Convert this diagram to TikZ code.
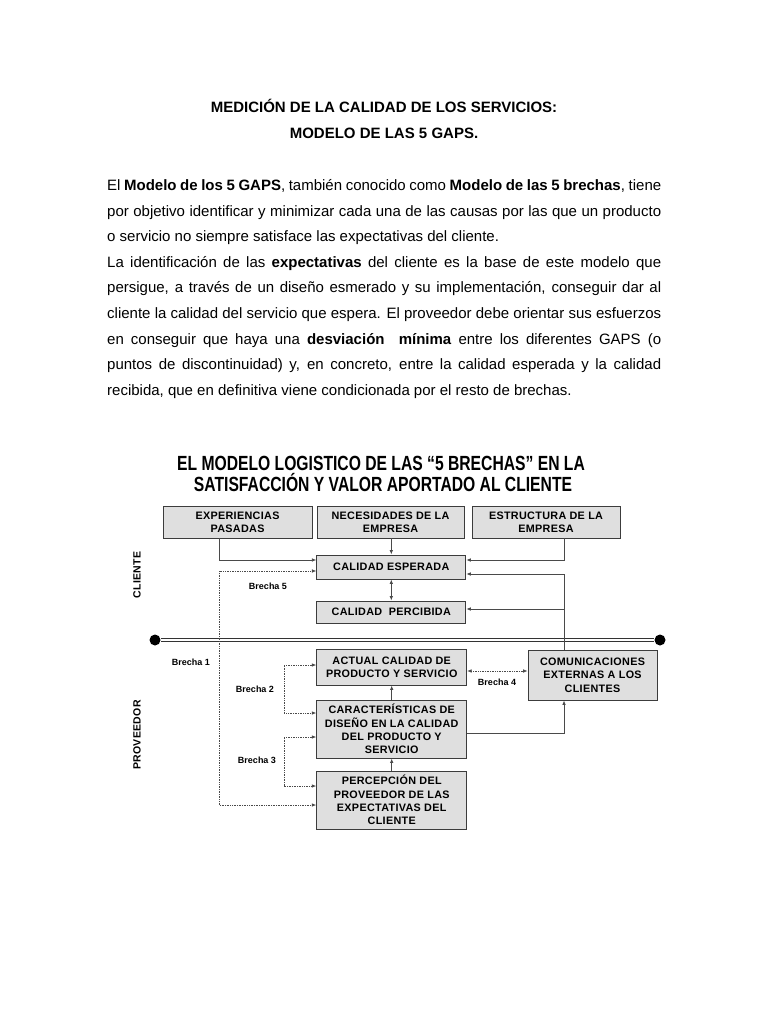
\documentclass[tikz,border=0pt]{standalone}
\usepackage{fontspec}
\setmainfont{Liberation Sans}
\newfontfamily\boxfont[LetterSpace=3]{Liberation Sans}
\usetikzlibrary{arrows.meta}
\definecolor{boxfill}{HTML}{DFDFDF}
\definecolor{boxline}{HTML}{3C3C3C}
\definecolor{linecol}{HTML}{4A4A4A}
\begin{document}
\begin{tikzpicture}[x=1pt,y=-1pt,
  box/.style={draw=boxline, fill=boxfill, line width=0.9pt, align=center,
    font=\boxfont\bfseries\fontsize{10.8}{13.4}\selectfont, inner sep=0pt},
  conn/.style={draw=linecol, line width=0.8pt},
  tip/.tip={Latex[length=4.5pt,width=3.6pt]},
  arr/.style={conn, -tip},
  arrtwo/.style={conn, tip-tip},
  dotarr/.style={draw=linecol, line width=0.7pt, densely dotted, tip-tip},
  body/.style={anchor=base west, inner sep=0pt, font=\fontsize{15}{18}\selectfont},
  ttl/.style={anchor=base, inner sep=0pt, font=\bfseries\fontsize{15}{18}\selectfont},
  dtitle/.style={anchor=base, inner sep=0pt, font=\bfseries\fontsize{20.5}{24}\selectfont},
  gap/.style={inner sep=0pt, font=\bfseries\fontsize{9}{11}\selectfont},
  side/.style={inner sep=0pt, rotate=90, font=\boxfont\bfseries\fontsize{10.5}{12}\selectfont},
  dot/.style={circle, fill=black, inner sep=0pt, minimum size=11pt}
]
\useasboundingbox[fill=white] (0,0) rectangle (768,1024);

% ---- page heading
\node[ttl] (h1) at (384,112.4) {MEDICIÓN DE LA CALIDAD DE LOS SERVICIOS:};
\node[ttl] (h2) at (384,138.4) {MODELO DE LAS 5 GAPS.};

% ---- body text
\node[body] (t1) at (107,190.5) {\makebox[554pt][s]{El \textbf{Modelo de los 5 GAPS}, también conocido como \textbf{Modelo de las 5 brechas}, tiene}};
\node[body] (t2) at (107,216.1) {\makebox[554pt][s]{por objetivo identificar y minimizar cada una de las causas por las que un producto}};
\node[body] (t3) at (107,241.7) {o servicio no siempre satisface las expectativas del cliente.};
\node[body] (t4) at (107,267.3) {\makebox[554pt][s]{La identificación de las \textbf{expectativas} del cliente es la base de este modelo que}};
\node[body] (t5) at (107,292.9) {\makebox[554pt][s]{persigue, a través de un diseño esmerado y su implementación, conseguir dar al}};
\node[body] (t6) at (107,318.5) {\makebox[554pt][s]{cliente la calidad del servicio que espera. El proveedor debe orientar sus esfuerzos}};
\node[body] (t7) at (107,344.1) {\makebox[554pt][s]{en conseguir que haya una \textbf{desviación\ \ mínima} entre los diferentes GAPS (o}};
\node[body] (t8) at (107,369.7) {\makebox[554pt][s]{puntos de discontinuidad) y, en concreto, entre la calidad esperada y la calidad}};
\node[body] (t9) at (107,395.3) {recibida, que en definitiva viene condicionada por el resto de brechas.};

% ---- diagram title
\node[dtitle] (d1) at (381,470.5) {\scalebox{0.765}[1]{EL MODELO LOGISTICO DE LAS “5 BRECHAS” EN LA}};
\node[dtitle] (d2) at (383,491.5) {\scalebox{0.765}[1]{SATISFACCIÓN Y VALOR APORTADO AL CLIENTE}};

% ---- boxes
\node[box, minimum width=149pt, minimum height=32pt] (exp) at (237.5,522) {EXPERIENCIAS\\PASADAS};
\node[box, minimum width=147pt, minimum height=32pt] (nec) at (390.5,522) {NECESIDADES DE LA\\EMPRESA};
\node[box, minimum width=148pt, minimum height=32pt] (est) at (546,522) {ESTRUCTURA DE LA\\EMPRESA};
\node[box, minimum width=149pt, minimum height=24pt] (esp) at (391.3,567) {CALIDAD ESPERADA};
\node[box, minimum width=149pt, minimum height=22pt] (per) at (391.3,612) {CALIDAD\ \ PERCIBIDA};
\node[box, minimum width=150pt, minimum height=36pt] (act) at (391.7,667) {ACTUAL CALIDAD DE\\PRODUCTO Y SERVICIO};
\node[box, minimum width=150pt, minimum height=58pt] (car) at (391.7,729) {CARACTERÍSTICAS DE\\DISEÑO EN LA CALIDAD\\DEL PRODUCTO Y\\SERVICIO};
\node[box, minimum width=150pt, minimum height=58pt] (pcp) at (391.7,800) {PERCEPCIÓN DEL\\PROVEEDOR DE LAS\\EXPECTATIVAS DEL\\CLIENTE};
\node[box, minimum width=129pt, minimum height=50pt] (com) at (592.5,675) {COMUNICACIONES\\EXTERNAS A LOS\\CLIENTES};

% ---- side labels
\node[side] (cli) at (137,575) {CLIENTE};
\node[side] (pro) at (137,735) {PROVEEDOR};

% ---- divider
\node[dot] (dl) at (155,640) {};
\node[dot] (dr) at (660,640) {};
\draw[draw=black!80, line width=0.9pt, double=white, double distance=2.4pt] (dl) -- (dr);

% ---- solid connectors
\coordinate (ec) at (219,560);
\coordinate (sc) at (564,560);
\coordinate (cc) at (564,574);
\coordinate (pc) at (564,609);
\coordinate (kc) at (564,733);
\draw[arr] (exp.south -| ec) -- (ec) -- (esp.west |- ec);
\draw[arr] (nec.south -| esp.north) -- (esp.north);
\draw[arr] (est.south -| sc) -- (sc) -- (esp.east |- sc);
\draw[arr] (com.north -| cc) -- (cc) -- (esp.east |- cc);
\draw[arr] (pc) -- (per.east |- pc);
\draw[arrtwo] (esp.south) -- (per.north);
\draw[arr] (pcp.north) -- (car.south);
\draw[arr] (car.north) -- (act.south);
\draw[arr] (car.east |- kc) -- (kc) -- (com.south -| kc);

% ---- gaps (dotted)
\coordinate (g5a) at (219,571);
\coordinate (g5b) at (219,805);
\draw[dotarr] (esp.west |- g5a) -- (g5a) -- (g5b) -- (pcp.west |- g5b);
\coordinate (g2a) at (284,665);
\coordinate (g2b) at (284,713);
\draw[dotarr] (act.west |- g2a) -- (g2a) -- (g2b) -- (car.west |- g2b);
\coordinate (g3a) at (284,737);
\coordinate (g3b) at (284,786);
\draw[dotarr] (car.west |- g3a) -- (g3a) -- (g3b) -- (pcp.west |- g3b);
\coordinate (g4) at (497,671);
\draw[dotarr] (act.east |- g4) -- (com.west |- g4);

\node[gap] (b5) at (268,586) {Brecha 5};
\node[gap] (b1) at (191,662) {Brecha 1};
\node[gap] (b2) at (255,689) {Brecha 2};
\node[gap] (b3) at (257,760) {Brecha 3};
\node[gap] (b4) at (497,682) {Brecha 4};
\end{tikzpicture}
\end{document}
